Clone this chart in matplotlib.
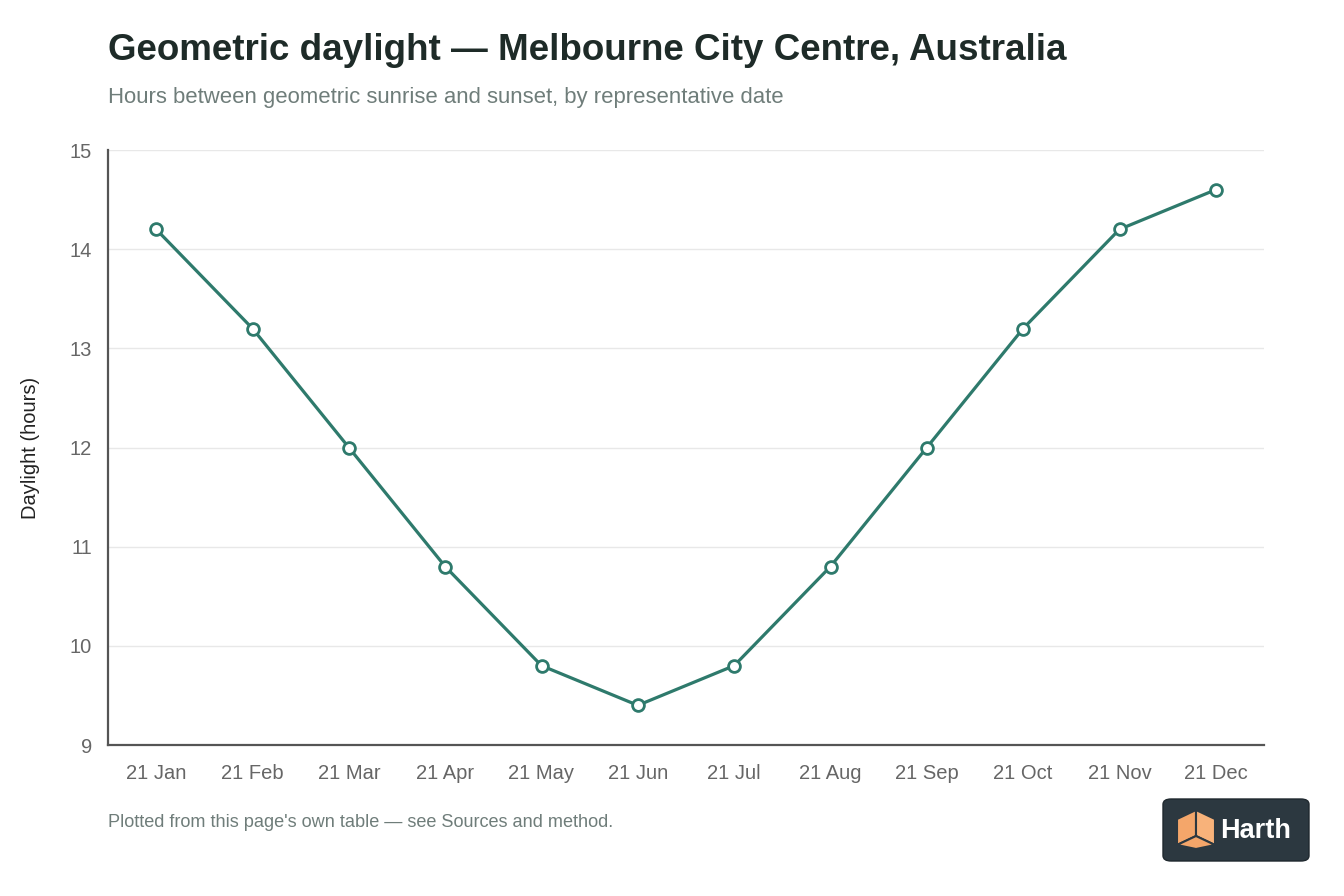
import matplotlib.pyplot as plt
from matplotlib.patches import FancyBboxPatch, Polygon

plt.rcParams['font.family'] = ['Liberation Sans', 'DejaVu Sans']

dates = ['21 Jan', '21 Feb', '21 Mar', '21 Apr', '21 May', '21 Jun',
         '21 Jul', '21 Aug', '21 Sep', '21 Oct', '21 Nov', '21 Dec']
daylight = [14.2, 13.2, 12.0, 10.8, 9.8, 9.4, 9.8, 10.8, 12.0, 13.2, 14.2, 14.6]
yticks = [9, 10, 11, 12, 13, 14, 15]

line_color = '#2e7a6c'
axis_color = '#555555'
grid_color = '#e8e8e8'

fig = plt.figure(figsize=(13.44, 8.96), dpi=100)
ax = fig.add_axes([108 / 1344, 1 - 745 / 896, (1264 - 108) / 1344, (745 - 150) / 896])

x = range(len(dates))
ax.plot(x, daylight, color=line_color, lw=2.3, marker='o', ms=8.5,
        mfc='white', mec=line_color, mew=2, zorder=3)

ax.set_xlim(-0.5, len(dates) - 0.5)
ax.set_ylim(9, 15)
ax.set_xticks(list(x))
ax.set_xticklabels(dates)
ax.set_yticks(yticks)
ax.grid(axis='y', color=grid_color, lw=1)
ax.set_axisbelow(True)
ax.tick_params(length=0, labelsize=14.5, colors='#666666')
ax.tick_params(axis='x', pad=14)
ax.tick_params(axis='y', pad=11.5)
for s in ['top', 'right']:
    ax.spines[s].set_visible(False)
for s in ['left', 'bottom']:
    ax.spines[s].set_color(axis_color)
    ax.spines[s].set_linewidth(1.6)

ax.set_ylabel('Daylight (hours)', fontsize=14.5, color='#222222', labelpad=21)

fig.text(108 / 1344, 1 - 51 / 896, 'Geometric daylight \u2014 Melbourne City Centre, Australia',
         fontsize=26.5, fontweight='bold', color='#1e2b28', va='center')
fig.text(108 / 1344, 1 - 97 / 896, 'Hours between geometric sunrise and sunset, by representative date',
         fontsize=15.9, color='#6f7d7a', va='center')
fig.text(108 / 1344, 1 - 822 / 896, "Plotted from this page's own table \u2014 see Sources and method.",
         fontsize=13.1, color='#6f7d7a', va='center')

# logo badge
W, H = 1344, 896
badge = FancyBboxPatch((1163 / W, 1 - 861 / H), 146 / W, 62 / H,
                       boxstyle='round,pad=0,rounding_size=0.006',
                       transform=fig.transFigure, fc='#2c3840', ec='#1f282e', lw=1)
fig.patches.append(badge)
cx, cy = 1196, 830
pts_left = [(cx - 19, cy - 11), (cx, cy - 20), (cx, cy + 6), (cx - 19, cy + 15)]
pts_right = [(cx, cy - 20), (cx + 19, cy - 11), (cx + 19, cy + 15), (cx, cy + 6)]
pts_bottom = [(cx - 19, cy + 15), (cx, cy + 6), (cx + 19, cy + 15), (cx, cy + 19)]
for pts, col in [(pts_left, '#f4a66a'), (pts_right, '#f8b27a'), (pts_bottom, '#f4a66a')]:
    fig.patches.append(Polygon([(px / W, 1 - py / H) for px, py in pts], closed=True,
                               transform=fig.transFigure, fc=col, ec='#2c3840', lw=1.5))
fig.text(1220 / W, 1 - 831 / H, 'Harth', fontsize=19.5, fontweight='bold', color='white',
         va='center', ha='left')

fig.savefig('out.png', dpi=100)
